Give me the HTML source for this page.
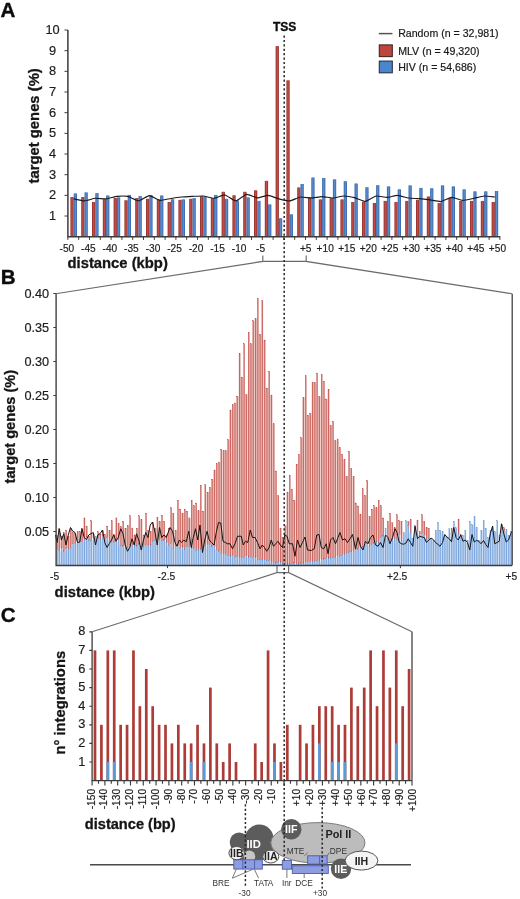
<!DOCTYPE html>
<html lang="en"><head><meta charset="utf-8"><title>Figure: MLV and HIV integration sites around TSS</title>
<style>html,body{margin:0;padding:0;background:#fff}body{width:520px;height:899px;overflow:hidden}svg{display:block;filter:blur(0.3px)}text{font-family:'Liberation Sans', Arial, Helvetica, sans-serif}</style>
</head><body>
<svg width="520" height="899" viewBox="0 0 520 899" role="img" aria-label="Distribution of MLV and HIV integration sites around transcription start sites">
<rect width="520" height="899" fill="#fff"/>
<g id="panelA">
<text x="0.4" y="16.7" font-size="20.6" font-weight="700" fill="#0c0c0c" stroke="#0c0c0c" stroke-width="0.35">A</text>
<g fill="#9e342f">
<rect x="70.4" y="197.01" width="3.3" height="39.69"/>
<rect x="81.2" y="197.01" width="3.3" height="39.69"/>
<rect x="92" y="201.97" width="3.3" height="34.73"/>
<rect x="102.8" y="199.29" width="3.3" height="37.41"/>
<rect x="113.6" y="198.05" width="3.3" height="38.65"/>
<rect x="124.4" y="200.32" width="3.3" height="36.38"/>
<rect x="135.2" y="198.05" width="3.3" height="38.65"/>
<rect x="146" y="198.87" width="3.3" height="37.83"/>
<rect x="156.8" y="199.49" width="3.3" height="37.21"/>
<rect x="167.6" y="201.97" width="3.3" height="34.73"/>
<rect x="178.4" y="199.91" width="3.3" height="36.79"/>
<rect x="189.2" y="198.87" width="3.3" height="37.83"/>
<rect x="200" y="196.39" width="3.3" height="40.31"/>
<rect x="210.8" y="198.25" width="3.3" height="38.45"/>
<rect x="221.6" y="191.85" width="3.3" height="44.85"/>
<rect x="232.4" y="195.36" width="3.3" height="41.34"/>
<rect x="243.2" y="191.85" width="3.3" height="44.85"/>
<rect x="254" y="190.4" width="3.3" height="46.3"/>
<rect x="264.8" y="180.89" width="3.3" height="55.81"/>
<rect x="275.6" y="46.12" width="3.3" height="190.58"/>
<rect x="286.4" y="80.43" width="3.3" height="156.27"/>
<rect x="297.2" y="187.51" width="3.3" height="49.19"/>
<rect x="308" y="197.43" width="3.3" height="39.27"/>
<rect x="318.8" y="199.49" width="3.3" height="37.21"/>
<rect x="329.6" y="198.25" width="3.3" height="38.45"/>
<rect x="340.4" y="199.49" width="3.3" height="37.21"/>
<rect x="351.2" y="201.97" width="3.3" height="34.73"/>
<rect x="362" y="201.56" width="3.3" height="35.14"/>
<rect x="372.8" y="203.01" width="3.3" height="33.69"/>
<rect x="383.6" y="200.94" width="3.3" height="35.76"/>
<rect x="394.4" y="201.97" width="3.3" height="34.73"/>
<rect x="405.2" y="200.94" width="3.3" height="35.76"/>
<rect x="416" y="199.91" width="3.3" height="36.79"/>
<rect x="426.8" y="196.6" width="3.3" height="40.1"/>
<rect x="437.6" y="203.01" width="3.3" height="33.69"/>
<rect x="448.4" y="198.05" width="3.3" height="38.65"/>
<rect x="459.2" y="200.94" width="3.3" height="35.76"/>
<rect x="470" y="200.94" width="3.3" height="35.76"/>
<rect x="480.8" y="200.94" width="3.3" height="35.76"/>
<rect x="491.6" y="201.97" width="3.3" height="34.73"/>
</g>
<g fill="#bf4d47">
<rect x="71.35" y="197.01" width="1.4" height="39.69"/>
<rect x="82.15" y="197.01" width="1.4" height="39.69"/>
<rect x="92.95" y="201.97" width="1.4" height="34.73"/>
<rect x="103.75" y="199.29" width="1.4" height="37.41"/>
<rect x="114.55" y="198.05" width="1.4" height="38.65"/>
<rect x="125.35" y="200.32" width="1.4" height="36.38"/>
<rect x="136.15" y="198.05" width="1.4" height="38.65"/>
<rect x="146.95" y="198.87" width="1.4" height="37.83"/>
<rect x="157.75" y="199.49" width="1.4" height="37.21"/>
<rect x="168.55" y="201.97" width="1.4" height="34.73"/>
<rect x="179.35" y="199.91" width="1.4" height="36.79"/>
<rect x="190.15" y="198.87" width="1.4" height="37.83"/>
<rect x="200.95" y="196.39" width="1.4" height="40.31"/>
<rect x="211.75" y="198.25" width="1.4" height="38.45"/>
<rect x="222.55" y="191.85" width="1.4" height="44.85"/>
<rect x="233.35" y="195.36" width="1.4" height="41.34"/>
<rect x="244.15" y="191.85" width="1.4" height="44.85"/>
<rect x="254.95" y="190.4" width="1.4" height="46.3"/>
<rect x="265.75" y="180.89" width="1.4" height="55.81"/>
<rect x="276.55" y="46.12" width="1.4" height="190.58"/>
<rect x="287.35" y="80.43" width="1.4" height="156.27"/>
<rect x="298.15" y="187.51" width="1.4" height="49.19"/>
<rect x="308.95" y="197.43" width="1.4" height="39.27"/>
<rect x="319.75" y="199.49" width="1.4" height="37.21"/>
<rect x="330.55" y="198.25" width="1.4" height="38.45"/>
<rect x="341.35" y="199.49" width="1.4" height="37.21"/>
<rect x="352.15" y="201.97" width="1.4" height="34.73"/>
<rect x="362.95" y="201.56" width="1.4" height="35.14"/>
<rect x="373.75" y="203.01" width="1.4" height="33.69"/>
<rect x="384.55" y="200.94" width="1.4" height="35.76"/>
<rect x="395.35" y="201.97" width="1.4" height="34.73"/>
<rect x="406.15" y="200.94" width="1.4" height="35.76"/>
<rect x="416.95" y="199.91" width="1.4" height="36.79"/>
<rect x="427.75" y="196.6" width="1.4" height="40.1"/>
<rect x="438.55" y="203.01" width="1.4" height="33.69"/>
<rect x="449.35" y="198.05" width="1.4" height="38.65"/>
<rect x="460.15" y="200.94" width="1.4" height="35.76"/>
<rect x="470.95" y="200.94" width="1.4" height="35.76"/>
<rect x="481.75" y="200.94" width="1.4" height="35.76"/>
<rect x="492.55" y="201.97" width="1.4" height="34.73"/>
</g>
<g fill="#3e6eb0">
<rect x="73.7" y="193.5" width="3.3" height="43.2"/>
<rect x="84.5" y="192.47" width="3.3" height="44.23"/>
<rect x="95.3" y="193.09" width="3.3" height="43.61"/>
<rect x="106.1" y="195.57" width="3.3" height="41.13"/>
<rect x="116.9" y="197.43" width="3.3" height="39.27"/>
<rect x="127.7" y="194.95" width="3.3" height="41.75"/>
<rect x="138.5" y="195.98" width="3.3" height="40.72"/>
<rect x="149.3" y="194.95" width="3.3" height="41.75"/>
<rect x="160.1" y="195.57" width="3.3" height="41.13"/>
<rect x="170.9" y="199.29" width="3.3" height="37.41"/>
<rect x="181.7" y="199.49" width="3.3" height="37.21"/>
<rect x="192.5" y="198.05" width="3.3" height="38.65"/>
<rect x="203.3" y="196.81" width="3.3" height="39.89"/>
<rect x="214.1" y="194.95" width="3.3" height="41.75"/>
<rect x="224.9" y="198.87" width="3.3" height="37.83"/>
<rect x="235.7" y="200.53" width="3.3" height="36.17"/>
<rect x="246.5" y="197.43" width="3.3" height="39.27"/>
<rect x="257.3" y="200.94" width="3.3" height="35.76"/>
<rect x="268.1" y="204.45" width="3.3" height="32.25"/>
<rect x="278.9" y="218.3" width="3.3" height="18.4"/>
<rect x="289.7" y="214.38" width="3.3" height="22.32"/>
<rect x="300.5" y="183.99" width="3.3" height="52.71"/>
<rect x="311.3" y="177.58" width="3.3" height="59.12"/>
<rect x="322.1" y="178" width="3.3" height="58.7"/>
<rect x="332.9" y="179.44" width="3.3" height="57.26"/>
<rect x="343.7" y="181.3" width="3.3" height="55.4"/>
<rect x="354.5" y="183.58" width="3.3" height="53.12"/>
<rect x="365.3" y="187.3" width="3.3" height="49.4"/>
<rect x="376.1" y="185.23" width="3.3" height="51.47"/>
<rect x="386.9" y="186.47" width="3.3" height="50.23"/>
<rect x="397.7" y="189.37" width="3.3" height="47.33"/>
<rect x="408.5" y="185.44" width="3.3" height="51.26"/>
<rect x="419.3" y="187.92" width="3.3" height="48.78"/>
<rect x="430.1" y="188.33" width="3.3" height="48.37"/>
<rect x="440.9" y="185.44" width="3.3" height="51.26"/>
<rect x="451.7" y="186.47" width="3.3" height="50.23"/>
<rect x="462.5" y="189.37" width="3.3" height="47.33"/>
<rect x="473.3" y="191.43" width="3.3" height="45.27"/>
<rect x="484.1" y="191.43" width="3.3" height="45.27"/>
<rect x="494.9" y="191.02" width="3.3" height="45.68"/>
</g>
<g fill="#588ccf">
<rect x="74.65" y="193.5" width="1.4" height="43.2"/>
<rect x="85.45" y="192.47" width="1.4" height="44.23"/>
<rect x="96.25" y="193.09" width="1.4" height="43.61"/>
<rect x="107.05" y="195.57" width="1.4" height="41.13"/>
<rect x="117.85" y="197.43" width="1.4" height="39.27"/>
<rect x="128.65" y="194.95" width="1.4" height="41.75"/>
<rect x="139.45" y="195.98" width="1.4" height="40.72"/>
<rect x="150.25" y="194.95" width="1.4" height="41.75"/>
<rect x="161.05" y="195.57" width="1.4" height="41.13"/>
<rect x="171.85" y="199.29" width="1.4" height="37.41"/>
<rect x="182.65" y="199.49" width="1.4" height="37.21"/>
<rect x="193.45" y="198.05" width="1.4" height="38.65"/>
<rect x="204.25" y="196.81" width="1.4" height="39.89"/>
<rect x="215.05" y="194.95" width="1.4" height="41.75"/>
<rect x="225.85" y="198.87" width="1.4" height="37.83"/>
<rect x="236.65" y="200.53" width="1.4" height="36.17"/>
<rect x="247.45" y="197.43" width="1.4" height="39.27"/>
<rect x="258.25" y="200.94" width="1.4" height="35.76"/>
<rect x="269.05" y="204.45" width="1.4" height="32.25"/>
<rect x="279.85" y="218.3" width="1.4" height="18.4"/>
<rect x="290.65" y="214.38" width="1.4" height="22.32"/>
<rect x="301.45" y="183.99" width="1.4" height="52.71"/>
<rect x="312.25" y="177.58" width="1.4" height="59.12"/>
<rect x="323.05" y="178" width="1.4" height="58.7"/>
<rect x="333.85" y="179.44" width="1.4" height="57.26"/>
<rect x="344.65" y="181.3" width="1.4" height="55.4"/>
<rect x="355.45" y="183.58" width="1.4" height="53.12"/>
<rect x="366.25" y="187.3" width="1.4" height="49.4"/>
<rect x="377.05" y="185.23" width="1.4" height="51.47"/>
<rect x="387.85" y="186.47" width="1.4" height="50.23"/>
<rect x="398.65" y="189.37" width="1.4" height="47.33"/>
<rect x="409.45" y="185.44" width="1.4" height="51.26"/>
<rect x="420.25" y="187.92" width="1.4" height="48.78"/>
<rect x="431.05" y="188.33" width="1.4" height="48.37"/>
<rect x="441.85" y="185.44" width="1.4" height="51.26"/>
<rect x="452.65" y="186.47" width="1.4" height="50.23"/>
<rect x="463.45" y="189.37" width="1.4" height="47.33"/>
<rect x="474.25" y="191.43" width="1.4" height="45.27"/>
<rect x="485.05" y="191.43" width="1.4" height="45.27"/>
<rect x="495.85" y="191.02" width="1.4" height="45.68"/>
</g>
<path d="M73.7,198.87C74.6,199.05 82.7,200.99 84.5,200.94C86.3,200.89 93.5,198.43 95.3,198.25C97.1,198.08 104.3,199.03 106.1,198.87C107.9,198.72 115.1,196.6 116.9,196.39C118.7,196.19 125.9,196.01 127.7,196.39C129.5,196.77 136.7,201.01 138.5,200.94C140.3,200.87 147.5,195.62 149.3,195.57C151.1,195.52 158.3,200.08 160.1,200.32C161.9,200.56 169.1,198.74 170.9,198.46C172.7,198.18 179.9,197.19 181.7,197.01C183.5,196.84 190.7,196.48 192.5,196.39C194.3,196.31 201.5,195.83 203.3,195.98C205.1,196.14 212.3,198.34 214.1,198.25C215.9,198.17 223.1,194.72 224.9,194.95C226.7,195.17 233.9,200.99 235.7,200.94C237.5,200.89 244.7,194.58 246.5,194.33C248.3,194.07 255.5,197.75 257.3,197.84C259.1,197.93 266.3,195.27 268.1,195.36C269.9,195.45 277.1,198.41 278.9,198.87C280.7,199.34 287.9,201.1 289.7,200.94C291.5,200.79 298.7,197.25 300.5,197.01C302.3,196.77 309.5,198.08 311.3,198.05C313.1,198.01 320.3,196.6 322.1,196.6C323.9,196.6 331.1,198.1 332.9,198.05C334.7,198 341.9,196.01 343.7,195.98C345.5,195.95 352.7,197.19 354.5,197.63C356.3,198.08 363.5,201.49 365.3,201.35C367.1,201.22 374.3,196.31 376.1,195.98C377.9,195.65 385.1,197.48 386.9,197.43C388.7,197.38 395.9,195.31 397.7,195.36C399.5,195.41 406.7,197.77 408.5,198.05C410.3,198.32 417.5,198.51 419.3,198.67C421.1,198.82 428.3,199.67 430.1,199.91C431.9,200.15 439.1,201.77 440.9,201.56C442.7,201.35 449.9,197.53 451.7,197.43C453.5,197.32 460.7,200.23 462.5,200.32C464.3,200.41 471.5,198.82 473.3,198.46C475.1,198.1 482.3,196.1 484.1,195.98C485.9,195.86 494,196.93 494.9,197.01" fill="none" stroke="#1c1c1c" stroke-width="1.15" stroke-linejoin="round"/>
<g stroke="#3c3c3c" stroke-width="1.5" fill="none">
<path d="M67.9,30 V236.7 H500.2"/>
<path d="M67.9,216.03 h-3.4M67.9,195.36 h-3.4M67.9,174.69 h-3.4M67.9,154.02 h-3.4M67.9,133.35 h-3.4M67.9,112.68 h-3.4M67.9,92.01 h-3.4M67.9,71.34 h-3.4M67.9,50.67 h-3.4M67.9,30 h-3.4M67.9,236.7 v3.2M78.7,236.7 v3.2M89.5,236.7 v3.2M100.3,236.7 v3.2M111.1,236.7 v3.2M121.9,236.7 v3.2M132.7,236.7 v3.2M143.5,236.7 v3.2M154.3,236.7 v3.2M165.1,236.7 v3.2M175.9,236.7 v3.2M186.7,236.7 v3.2M197.5,236.7 v3.2M208.3,236.7 v3.2M219.1,236.7 v3.2M229.9,236.7 v3.2M240.7,236.7 v3.2M251.5,236.7 v3.2M262.3,236.7 v3.2M273.1,236.7 v3.2M283.9,236.7 v3.2M294.7,236.7 v3.2M305.5,236.7 v3.2M316.3,236.7 v3.2M327.1,236.7 v3.2M337.9,236.7 v3.2M348.7,236.7 v3.2M359.5,236.7 v3.2M370.3,236.7 v3.2M381.1,236.7 v3.2M391.9,236.7 v3.2M402.7,236.7 v3.2M413.5,236.7 v3.2M424.3,236.7 v3.2M435.1,236.7 v3.2M445.9,236.7 v3.2M456.7,236.7 v3.2M467.5,236.7 v3.2M478.3,236.7 v3.2M489.1,236.7 v3.2M499.9,236.7 v3.2" stroke-width="1"/>
</g>
<g font-size="12.8" fill="#1c1c1c" stroke="#1c1c1c" stroke-width="0.18" text-anchor="middle">
<text x="52.6" y="220.03">1</text>
<text x="52.6" y="199.36">2</text>
<text x="52.6" y="178.69">3</text>
<text x="52.6" y="158.02">4</text>
<text x="52.6" y="137.35">5</text>
<text x="52.6" y="116.68">6</text>
<text x="52.6" y="96.01">7</text>
<text x="52.6" y="75.34">8</text>
<text x="52.6" y="54.67">9</text>
<text x="52.6" y="34">10</text>
</g>
<g font-size="10.15" fill="#1c1c1c" stroke="#1c1c1c" stroke-width="0.18" text-anchor="middle">
<text x="66.85" y="251.7">-50</text>
<text x="88.38" y="251.7">-45</text>
<text x="109.91" y="251.7">-40</text>
<text x="131.44" y="251.7">-35</text>
<text x="152.97" y="251.7">-30</text>
<text x="174.5" y="251.7">-25</text>
<text x="196.03" y="251.7">-20</text>
<text x="217.56" y="251.7">-15</text>
<text x="239.09" y="251.7">-10</text>
<text x="260.62" y="251.7">-5</text>
<text x="305.7" y="251.7">+5</text>
<text x="325.21" y="251.7">+10</text>
<text x="346.74" y="251.7">+15</text>
<text x="368.27" y="251.7">+20</text>
<text x="389.8" y="251.7">+25</text>
<text x="411.33" y="251.7">+30</text>
<text x="432.86" y="251.7">+35</text>
<text x="454.39" y="251.7">+40</text>
<text x="475.92" y="251.7">+45</text>
<text x="497.45" y="251.7">+50</text>
</g>
<text x="67.5" y="268.4" font-size="14.8" font-weight="700" fill="#151515" stroke="#151515" stroke-width="0.3">distance (kbp)</text>
<text transform="translate(38.6,183.4) rotate(-90)" font-size="14.8" font-weight="700" fill="#151515" stroke="#151515" stroke-width="0.3">target genes (%)</text>
<text x="284.6" y="30.8" font-size="12" font-weight="700" fill="#0c0c0c" stroke="#0c0c0c" stroke-width="0.35" text-anchor="middle">TSS</text>
<path d="M378.8,33.6 H392.4" stroke="#555" stroke-width="1.5"/>
<rect x="379.3" y="44.9" width="13" height="11.7" fill="#c0453e" stroke="#3a2a2a" stroke-width="1.1"/>
<rect x="379.3" y="61.1" width="13" height="11.7" fill="#4a86cf" stroke="#2a3240" stroke-width="1.1"/>
<g font-size="10.6" fill="#1a1a1a" stroke="#1a1a1a" stroke-width="0.2">
<text x="398.2" y="37.4">Random (n = 32,981)</text>
<text x="398.2" y="54.9">MLV (n = 49,320)</text>
<text x="398.2" y="71">HIV (n = 54,686)</text>
</g>
</g>
<g id="panelB">
<text x="0.8" y="283.7" font-size="20.6" font-weight="700" fill="#0c0c0c" stroke="#0c0c0c" stroke-width="0.35">B</text>
<path d="M57.64,549.8V535.58H58.82V549.8ZM59.92,547.88V536.26H61.1V547.88ZM62.2,547.88V536.26H63.38V547.88ZM64.48,548.37V532.86H65.66V548.37ZM66.76,548.37V536.26H67.95V548.37ZM69.05,548.41V536.26H70.23V548.41ZM71.33,543.47V532.86H72.51V543.47ZM73.61,543.47V533.54H74.79V543.47ZM75.89,540.87V533.54H77.07V540.87ZM78.17,540.87V531.5H79.35V540.87ZM80.45,541.72V531.5H81.63V541.72ZM82.73,539.39V528.44H83.91V539.39ZM85.01,537.12V526.06H86.19V537.12ZM87.29,537.12V536.26H88.47V537.12ZM89.57,540.23V536.26H90.76V540.23ZM91.86,537.95V534.22H93.04V537.95ZM98.7,538.05V534.22H99.88V538.05ZM100.98,535.71V534.22H102.16V535.71ZM103.26,535.71V534.22H104.44V535.71ZM105.54,537.13V534.22H106.72V537.13ZM107.82,537.13V530.14H109V537.13ZM110.1,540.61V530.14H111.28V540.61ZM112.38,541.79V534.22H113.57V541.79ZM114.67,541.67V534.22H115.85V541.67ZM116.95,539.3V523.34H118.13V539.3ZM119.23,539.3V526.74H120.41V539.3ZM121.51,545.48V526.74H122.69V545.48ZM123.79,546.02V528.1H124.97V546.02ZM126.07,547.83V528.1H127.25V547.83ZM128.35,544.84V525.38H129.53V544.84ZM130.63,544.84V528.1H131.81V544.84ZM132.91,545.44V534.9H134.09V545.44ZM135.19,546.02V534.9H136.38V546.02ZM137.48,544.12V528.1H138.66V544.12ZM139.76,544.12V519.26H140.94V544.12ZM142.04,546.17V534.9H143.22V546.17ZM144.32,544.86V534.9H145.5V544.86ZM146.6,544.86V530.14H147.78V544.86ZM148.88,545.1V531.5H150.06V545.1ZM151.16,541.32V531.5H152.34V541.32ZM153.44,540.75V528.1H154.62V540.75ZM155.72,540.75V528.1H156.9V540.75ZM158,539.26V521.3H159.19V539.26ZM160.29,539.26V521.3H161.47V539.26ZM162.57,540.07V521.3H163.75V540.07ZM164.85,540.07V534.9H166.03V540.07ZM167.13,542.08V534.9H168.31V542.08ZM169.41,543.17V528.1H170.59V543.17ZM171.69,543.17V513.14H172.87V543.17ZM173.97,546.74V530.14H175.15V546.74ZM176.25,545.15V530.14H177.43V545.15ZM178.53,545.15V509.06H179.71V545.15ZM180.81,547.12V513.14H182V547.12ZM183.1,547.12V513.14H184.28V547.12ZM185.38,546.65V511.1H186.56V546.65ZM187.66,546.38V517.9H188.84V546.38ZM189.94,546.38V517.9H191.12V546.38ZM192.22,548.1V505.66H193.4V548.1ZM194.5,548.41V505.66H195.68V548.41ZM196.78,550.14V510.42H197.96V550.14ZM199.06,548.99V510.42H200.24V548.99ZM201.34,547.66V511.1H202.52V547.66ZM203.62,546.55V511.1H204.81V546.55ZM205.91,544.41V492.06H207.09V544.41ZM208.19,544.41V492.06H209.37V544.41ZM210.47,544.65V487.3H211.65V544.65ZM212.75,546.06V479.14H213.93V546.06ZM215.03,546.13V469.96H216.21V546.13ZM217.31,549.85V463.5H218.49V549.85ZM219.59,551.04V462.14H220.77V551.04ZM221.87,553.39V450.58H223.05V553.39ZM224.15,553.39V450.58H225.33V553.39ZM226.43,554.19V450.58H227.62V554.19ZM228.72,555.74V439.7H229.9V555.74ZM231,555.86V409.98H232.18V555.86ZM233.28,555.86V404.48H234.46V555.86ZM235.56,556.69V402.98H236.74V556.69ZM237.84,556.69V396.18H239.02V556.69ZM240.12,557.24V377.14H241.3V557.24ZM242.4,557.3V377.14H243.58V557.3ZM244.68,555.87V394.48H245.86V555.87ZM246.96,555.87V394.48H248.14V555.87ZM249.24,556.83V343.82H250.43V556.83ZM251.53,556.83V343.82H252.71V556.83ZM253.81,557.06V320.7H254.99V557.06ZM256.09,557.06V318.66H257.27V557.06ZM258.37,559.42V334.3H259.55V559.42ZM260.65,559.42V334.3H261.83V559.42ZM262.93,559.73V340.01H264.11V559.73ZM265.21,559.73V388.02H266.39V559.73ZM267.49,560.32V388.02H268.67V560.32ZM269.77,560.68V395.02H270.95V560.68ZM272.05,562.33V423.72H273.24V562.33ZM274.34,562.5V470.98H275.52V562.5ZM276.62,562.13V495.46H277.8V562.13ZM278.9,562.12V528.1H280.08V562.12ZM281.18,562.12V537.62H282.36V562.12ZM283.46,563.9V537.62H284.64V563.9ZM285.74,563.98V525.38H286.92V563.98ZM288.02,563.91V492.06H289.2V563.91ZM290.3,563.3V489.34H291.48V563.3ZM292.58,562.99V500.22H293.76V562.99ZM294.86,562.99V500.22H296.05V562.99ZM297.15,563.56V464.18H298.33V563.56ZM299.43,563.04V454.32H300.61V563.04ZM301.71,563.04V437.66H302.89V563.04ZM303.99,562.37V397.54H305.17V562.37ZM306.27,561.31V415.22H307.45V561.31ZM308.55,561.31V415.22H309.73V561.31ZM310.83,561.58V413.18H312.01V561.58ZM313.11,561.18V382.58H314.29V561.18ZM315.39,560.61V382.58H316.57V560.61ZM317.67,560.61V396.18H318.86V560.61ZM319.96,559.24V396.18H321.14V559.24ZM322.24,559.04V381.22H323.42V559.04ZM324.52,558.39V398.9H325.7V558.39ZM326.8,558.09V398.9H327.98V558.09ZM329.08,558.09V425.42H330.26V558.09ZM331.36,557.55V425.42H332.54V557.55ZM333.64,557.47V440.38H334.82V557.47ZM335.92,555.71V440.38H337.1V555.71ZM338.2,555.71V447.52H339.38V555.71ZM340.48,555.32V454.25H341.67V555.32ZM342.77,554.17V459.42H343.95V554.17ZM345.05,553.4V476.42H346.23V553.4ZM347.33,552.18V476.42H348.51V552.18ZM349.61,551.91V468.26H350.79V551.91ZM351.89,551.15V476.42H353.07V551.15ZM354.17,549.84V502.94H355.35V549.84ZM356.45,548.93V505.93H357.63V548.93ZM358.73,547.39V514.16H359.91V547.39ZM361.01,547.07V514.16H362.19V547.07ZM363.29,542.55V495.46H364.48V542.55ZM365.58,542.55V495.46H366.76V542.55ZM367.86,543.53V516.54H369.04V543.53ZM370.14,544.4V516.54H371.32V544.4ZM372.42,542.96V509.06H373.6V542.96ZM374.7,542.06V507.7H375.88V542.06ZM376.98,542.06V507.7H378.16V542.06ZM379.26,537.42V505.66H380.44V537.42ZM381.54,535.9V517.9H382.72V535.9ZM388.39,538.27V521.3H389.57V538.27ZM390.67,540.33V522.66H391.85V540.33ZM392.95,538.69V527.76H394.13V538.69ZM395.23,538.69V527.76H396.41V538.69ZM397.51,534.49V520.62H398.69V534.49ZM399.79,534.49V521.3H400.97V534.49ZM408.91,525.38V521.3H410.1V525.38ZM420.32,533.61V531.5H421.5V533.61ZM422.6,533.61V521.3H423.78V533.61ZM424.88,535.14V527.42H426.06V535.14ZM427.16,538.17V528.1H428.34V538.17Z" fill="#fadcd7"/>
<path d="M57.64,565.5V550.67H58.82V565.5ZM59.92,565.5V550.67H61.1V565.5ZM62.2,565.5V550.96H63.38V565.5ZM64.48,565.5V550.96H65.66V565.5ZM66.76,565.5V549.23H67.95V565.5ZM69.05,565.5V549.23H70.23V565.5ZM71.33,565.5V548.41H72.51V565.5ZM73.61,565.5V543.54H74.79V565.5ZM75.89,565.5V543.54H77.07V565.5ZM78.17,565.5V542.34H79.35V565.5ZM80.45,565.5V542.34H81.63V565.5ZM82.73,565.5V541.72H83.91V565.5ZM85.01,565.5V539.39H86.19V565.5ZM87.29,565.5V540.86H88.47V565.5ZM89.57,565.5V540.86H90.76V565.5ZM91.86,565.5V540.23H93.04V565.5ZM94.14,565.5V537.95H95.32V565.5ZM96.42,565.5V538.05H97.6V565.5ZM98.7,565.5V538.95H99.88V565.5ZM100.98,565.5V538.95H102.16V565.5ZM103.26,565.5V541.16H104.44V565.5ZM105.54,565.5V541.16H106.72V565.5ZM107.82,565.5V540.61H109V565.5ZM110.1,565.5V541.79H111.28V565.5ZM112.38,565.5V542.32H113.57V565.5ZM114.67,565.5V542.32H115.85V565.5ZM116.95,565.5V541.67H118.13V565.5ZM119.23,565.5V545.48H120.41V565.5ZM121.51,565.5V546.02H122.69V565.5ZM123.79,565.5V548.42H124.97V565.5ZM126.07,565.5V548.42H127.25V565.5ZM128.35,565.5V547.83H129.53V565.5ZM130.63,565.5V545.44H131.81V565.5ZM132.91,565.5V546.14H134.09V565.5ZM135.19,565.5V546.14H136.38V565.5ZM137.48,565.5V546.02H138.66V565.5ZM139.76,565.5V546.17H140.94V565.5ZM142.04,565.5V546.56H143.22V565.5ZM144.32,565.5V546.56H145.5V565.5ZM146.6,565.5V545.35H147.78V565.5ZM148.88,565.5V545.35H150.06V565.5ZM151.16,565.5V545.1H152.34V565.5ZM153.44,565.5V541.32H154.62V565.5ZM155.72,565.5V542.14H156.9V565.5ZM158,565.5V542.14H159.19V565.5ZM160.29,565.5V540.75H161.47V565.5ZM162.57,565.5V540.75H163.75V565.5ZM164.85,565.5V542.08H166.03V565.5ZM167.13,565.5V545.71H168.31V565.5ZM169.41,565.5V545.71H170.59V565.5ZM171.69,565.5V548.11H172.87V565.5ZM173.97,565.5V548.11H175.15V565.5ZM176.25,565.5V546.74H177.43V565.5ZM178.53,565.5V548.69H179.71V565.5ZM180.81,565.5V548.69H182V565.5ZM183.1,565.5V549.82H184.28V565.5ZM185.38,565.5V549.82H186.56V565.5ZM187.66,565.5V546.65H188.84V565.5ZM189.94,565.5V548.1H191.12V565.5ZM192.22,565.5V548.41H193.4V565.5ZM194.5,565.5V550.24H195.68V565.5ZM196.78,565.5V550.24H197.96V565.5ZM199.06,565.5V550.14H200.24V565.5ZM201.34,565.5V548.99H202.52V565.5ZM203.62,565.5V547.66H204.81V565.5ZM205.91,565.5V546.55H207.09V565.5ZM208.19,565.5V544.65H209.37V565.5ZM210.47,565.5V546.06H211.65V565.5ZM212.75,565.5V546.13H213.93V565.5ZM215.03,565.5V549.85H216.21V565.5ZM217.31,565.5V551.04H218.49V565.5ZM219.59,565.5V553.64H220.77V565.5ZM221.87,565.5V553.64H223.05V565.5ZM224.15,565.5V554.19H225.33V565.5ZM226.43,565.5V555.74H227.62V565.5ZM228.72,565.5V555.99H229.9V565.5ZM231,565.5V555.99H232.18V565.5ZM233.28,565.5V557.63H234.46V565.5ZM235.56,565.5V557.63H236.74V565.5ZM237.84,565.5V557.24H239.02V565.5ZM240.12,565.5V557.3H241.3V565.5ZM242.4,565.5V557.37H243.58V565.5ZM244.68,565.5V557.37H245.86V565.5ZM246.96,565.5V557.12H248.14V565.5ZM249.24,565.5V557.12H250.43V565.5ZM251.53,565.5V557.29H252.71V565.5ZM253.81,565.5V557.29H254.99V565.5ZM256.09,565.5V559.42H257.27V565.5ZM258.37,565.5V559.42H259.55V565.5ZM260.65,565.5V559.96H261.83V565.5ZM262.93,565.5V559.96H264.11V565.5ZM265.21,565.5V560.32H266.39V565.5ZM267.49,565.5V560.68H268.67V565.5ZM269.77,565.5V562.33H270.95V565.5ZM272.05,565.5V562.5H273.24V565.5ZM274.34,565.5V563.07H275.52V565.5ZM276.62,565.5V563.07H277.8V565.5ZM278.9,565.5V562.13H280.08V565.5ZM281.18,565.5V563.9H282.36V565.5ZM283.46,565.5V563.98H284.64V565.5ZM285.74,565.5V564.01H286.92V565.5ZM288.02,565.5V564.01H289.2V565.5ZM290.3,565.5V563.91H291.48V565.5ZM292.58,565.5V563.3H293.76V565.5ZM294.86,565.5V563.56H296.05V565.5ZM297.15,565.5V563.99H298.33V565.5ZM299.43,565.5V563.99H300.61V565.5ZM301.71,565.5V563.05H302.89V565.5ZM303.99,565.5V563.05H305.17V565.5ZM306.27,565.5V562.37H307.45V565.5ZM308.55,565.5V561.58H309.73V565.5ZM310.83,565.5V561.66H312.01V565.5ZM313.11,565.5V561.66H314.29V565.5ZM315.39,565.5V561.18H316.57V565.5ZM317.67,565.5V561.42H318.86V565.5ZM319.96,565.5V561.42H321.14V565.5ZM322.24,565.5V559.24H323.42V565.5ZM324.52,565.5V559.04H325.7V565.5ZM326.8,565.5V558.39H327.98V565.5ZM329.08,565.5V558.24H330.26V565.5ZM331.36,565.5V558.24H332.54V565.5ZM333.64,565.5V557.55H334.82V565.5ZM335.92,565.5V557.47H337.1V565.5ZM338.2,565.5V556.19H339.38V565.5ZM340.48,565.5V556.19H341.67V565.5ZM342.77,565.5V555.32H343.95V565.5ZM345.05,565.5V554.17H346.23V565.5ZM347.33,565.5V553.4H348.51V565.5ZM349.61,565.5V552.18H350.79V565.5ZM351.89,565.5V551.91H353.07V565.5ZM354.17,565.5V551.15H355.35V565.5ZM356.45,565.5V549.84H357.63V565.5ZM358.73,565.5V548.93H359.91V565.5ZM361.01,565.5V547.39H362.19V565.5ZM363.29,565.5V547.07H364.48V565.5ZM365.58,565.5V543.53H366.76V565.5ZM367.86,565.5V545.9H369.04V565.5ZM370.14,565.5V545.9H371.32V565.5ZM372.42,565.5V544.4H373.6V565.5ZM374.7,565.5V542.96H375.88V565.5ZM376.98,565.5V542.9H378.16V565.5ZM379.26,565.5V542.9H380.44V565.5ZM381.54,565.5V537.42H382.72V565.5ZM383.82,565.5V535.9H385V565.5ZM386.1,565.5V538.27H387.29V565.5ZM388.39,565.5V540.44H389.57V565.5ZM390.67,565.5V540.44H391.85V565.5ZM392.95,565.5V540.33H394.13V565.5ZM395.23,565.5V539.22H396.41V565.5ZM397.51,565.5V539.22H398.69V565.5ZM399.79,565.5V540.79H400.97V565.5ZM402.07,565.5V540.79H403.25V565.5ZM404.35,565.5V532.86H405.53V565.5ZM406.63,565.5V525.38H407.81V565.5ZM408.91,565.5V532.86H410.1V565.5ZM411.2,565.5V538.3H412.38V565.5ZM413.48,565.5V538.3H414.66V565.5ZM415.76,565.5V530.14H416.94V565.5ZM418.04,565.5V535.58H419.22V565.5ZM420.32,565.5V535.58H421.5V565.5ZM422.6,565.5V535.14H423.78V565.5ZM424.88,565.5V539.23H426.06V565.5ZM427.16,565.5V539.23H428.34V565.5ZM429.44,565.5V538.98H430.62V565.5ZM431.72,565.5V540.34H432.91V565.5ZM434.01,565.5V540.34H435.19V565.5ZM436.29,565.5V530.14H437.47V565.5ZM438.57,565.5V530.14H439.75V565.5ZM440.85,565.5V531.5H442.03V565.5ZM443.13,565.5V535.24H444.31V565.5ZM445.41,565.5V537.62H446.59V565.5ZM447.69,565.5V537.62H448.87V565.5ZM449.97,565.5V532.86H451.15V565.5ZM452.25,565.5V532.86H453.43V565.5ZM454.53,565.5V527.76H455.72V565.5ZM456.82,565.5V534.22H458V565.5ZM459.1,565.5V535.58H460.28V565.5ZM461.38,565.5V535.58H462.56V565.5ZM463.66,565.5V535.24H464.84V565.5ZM465.94,565.5V540.34H467.12V565.5ZM468.22,565.5V540.34H469.4V565.5ZM470.5,565.5V524.7H471.68V565.5ZM472.78,565.5V524.7H473.96V565.5ZM475.06,565.5V527.42H476.24V565.5ZM477.34,565.5V540.34H478.53V565.5ZM479.63,565.5V540.34H480.81V565.5ZM481.91,565.5V530.14H483.09V565.5ZM484.19,565.5V528.1H485.37V565.5ZM486.47,565.5V537.62H487.65V565.5ZM488.75,565.5V537.62H489.93V565.5ZM491.03,565.5V530.14H492.21V565.5ZM493.31,565.5V531.5H494.49V565.5ZM495.59,565.5V531.5H496.77V565.5ZM497.87,565.5V535.24H499.05V565.5ZM500.15,565.5V535.24H501.34V565.5ZM502.44,565.5V531.5H503.62V565.5ZM504.72,565.5V531.5H505.9V565.5ZM507,565.5V535.24H508.18V565.5ZM509.28,565.5V535.24H510.46V565.5Z" fill="#d6e5f8"/>
<g fill="#d26d66" stroke="#b24a45" stroke-width="0.25">
<rect x="56.54" y="535.58" width="1.1" height="14.22"/>
<rect x="58.82" y="528.78" width="1.1" height="21.89"/>
<rect x="61.1" y="536.26" width="1.1" height="11.62"/>
<rect x="63.38" y="532.86" width="1.1" height="18.1"/>
<rect x="65.66" y="530.14" width="1.1" height="18.23"/>
<rect x="67.95" y="536.26" width="1.1" height="12.97"/>
<rect x="70.23" y="528.1" width="1.1" height="20.31"/>
<rect x="72.51" y="532.86" width="1.1" height="10.61"/>
<rect x="74.79" y="533.54" width="1.1" height="10"/>
<rect x="77.07" y="531.5" width="1.1" height="9.37"/>
<rect x="79.35" y="531.5" width="1.1" height="10.84"/>
<rect x="81.63" y="528.44" width="1.1" height="13.28"/>
<rect x="83.91" y="517.9" width="1.1" height="21.49"/>
<rect x="86.19" y="526.06" width="1.1" height="11.06"/>
<rect x="88.47" y="536.26" width="1.1" height="4.6"/>
<rect x="90.76" y="520.62" width="1.1" height="19.61"/>
<rect x="93.04" y="534.22" width="1.1" height="3.73"/>
<rect x="97.6" y="531.5" width="1.1" height="6.55"/>
<rect x="99.88" y="534.22" width="1.1" height="4.73"/>
<rect x="102.16" y="530.82" width="1.1" height="4.89"/>
<rect x="104.44" y="534.22" width="1.1" height="6.94"/>
<rect x="106.72" y="526.06" width="1.1" height="11.07"/>
<rect x="109" y="530.14" width="1.1" height="10.47"/>
<rect x="111.28" y="520.62" width="1.1" height="21.17"/>
<rect x="113.57" y="534.22" width="1.1" height="8.1"/>
<rect x="115.85" y="517.9" width="1.1" height="23.77"/>
<rect x="118.13" y="523.34" width="1.1" height="15.96"/>
<rect x="120.41" y="526.74" width="1.1" height="18.74"/>
<rect x="122.69" y="521.3" width="1.1" height="24.72"/>
<rect x="124.97" y="528.1" width="1.1" height="20.32"/>
<rect x="127.25" y="525.38" width="1.1" height="22.45"/>
<rect x="129.53" y="515.86" width="1.1" height="28.98"/>
<rect x="131.81" y="528.1" width="1.1" height="17.34"/>
<rect x="134.09" y="534.9" width="1.1" height="11.24"/>
<rect x="136.38" y="528.1" width="1.1" height="17.92"/>
<rect x="138.66" y="515.86" width="1.1" height="28.26"/>
<rect x="140.94" y="519.26" width="1.1" height="26.91"/>
<rect x="143.22" y="534.9" width="1.1" height="11.66"/>
<rect x="145.5" y="513.14" width="1.1" height="31.72"/>
<rect x="147.78" y="530.14" width="1.1" height="15.21"/>
<rect x="150.06" y="531.5" width="1.1" height="13.6"/>
<rect x="152.34" y="522.66" width="1.1" height="18.66"/>
<rect x="154.62" y="528.1" width="1.1" height="12.65"/>
<rect x="156.9" y="517.22" width="1.1" height="24.92"/>
<rect x="159.19" y="521.3" width="1.1" height="17.96"/>
<rect x="161.47" y="515.18" width="1.1" height="25.57"/>
<rect x="163.75" y="521.3" width="1.1" height="18.77"/>
<rect x="166.03" y="534.9" width="1.1" height="7.18"/>
<rect x="168.31" y="528.1" width="1.1" height="17.61"/>
<rect x="170.59" y="507.7" width="1.1" height="35.47"/>
<rect x="172.87" y="513.14" width="1.1" height="34.97"/>
<rect x="175.15" y="530.14" width="1.1" height="16.6"/>
<rect x="177.43" y="500.22" width="1.1" height="44.93"/>
<rect x="179.71" y="509.06" width="1.1" height="39.63"/>
<rect x="182" y="513.14" width="1.1" height="33.98"/>
<rect x="184.28" y="509.06" width="1.1" height="40.76"/>
<rect x="186.56" y="511.1" width="1.1" height="35.55"/>
<rect x="188.84" y="517.9" width="1.1" height="28.48"/>
<rect x="191.12" y="500.22" width="1.1" height="47.88"/>
<rect x="193.4" y="505.66" width="1.1" height="42.75"/>
<rect x="195.68" y="502.94" width="1.1" height="47.3"/>
<rect x="197.96" y="510.42" width="1.1" height="39.72"/>
<rect x="200.24" y="485.26" width="1.1" height="63.73"/>
<rect x="202.52" y="511.1" width="1.1" height="36.56"/>
<rect x="204.81" y="484.58" width="1.1" height="61.97"/>
<rect x="207.09" y="492.06" width="1.1" height="52.35"/>
<rect x="209.37" y="487.3" width="1.1" height="57.35"/>
<rect x="211.65" y="479.14" width="1.1" height="66.92"/>
<rect x="213.93" y="469.96" width="1.1" height="76.17"/>
<rect x="216.21" y="463.5" width="1.1" height="86.35"/>
<rect x="218.49" y="462.14" width="1.1" height="88.9"/>
<rect x="220.77" y="449.22" width="1.1" height="104.42"/>
<rect x="223.05" y="450.58" width="1.1" height="102.81"/>
<rect x="225.33" y="450.58" width="1.1" height="103.61"/>
<rect x="227.62" y="439.7" width="1.1" height="116.04"/>
<rect x="229.9" y="409.98" width="1.1" height="146"/>
<rect x="232.18" y="404.48" width="1.1" height="151.39"/>
<rect x="234.46" y="402.98" width="1.1" height="154.65"/>
<rect x="236.74" y="396.18" width="1.1" height="160.51"/>
<rect x="239.02" y="353.34" width="1.1" height="203.9"/>
<rect x="241.3" y="377.14" width="1.1" height="180.16"/>
<rect x="243.58" y="343.82" width="1.1" height="213.55"/>
<rect x="245.86" y="394.48" width="1.1" height="161.39"/>
<rect x="248.14" y="332.53" width="1.1" height="224.59"/>
<rect x="250.43" y="343.82" width="1.1" height="213.01"/>
<rect x="252.71" y="320.7" width="1.1" height="236.59"/>
<rect x="254.99" y="318.66" width="1.1" height="238.4"/>
<rect x="257.27" y="298.26" width="1.1" height="261.16"/>
<rect x="259.55" y="334.3" width="1.1" height="225.12"/>
<rect x="261.83" y="300.3" width="1.1" height="259.66"/>
<rect x="264.11" y="340.01" width="1.1" height="219.72"/>
<rect x="266.39" y="388.02" width="1.1" height="172.3"/>
<rect x="268.67" y="371.22" width="1.1" height="189.45"/>
<rect x="270.95" y="395.02" width="1.1" height="167.3"/>
<rect x="273.24" y="423.72" width="1.1" height="138.78"/>
<rect x="275.52" y="470.98" width="1.1" height="92.09"/>
<rect x="277.8" y="495.46" width="1.1" height="66.67"/>
<rect x="280.08" y="528.1" width="1.1" height="34.02"/>
<rect x="282.36" y="537.62" width="1.1" height="26.28"/>
<rect x="284.64" y="525.38" width="1.1" height="38.6"/>
<rect x="286.92" y="492.06" width="1.1" height="71.95"/>
<rect x="289.2" y="475.06" width="1.1" height="88.85"/>
<rect x="291.48" y="489.34" width="1.1" height="73.96"/>
<rect x="293.76" y="500.22" width="1.1" height="62.77"/>
<rect x="296.05" y="464.18" width="1.1" height="99.38"/>
<rect x="298.33" y="454.32" width="1.1" height="109.67"/>
<rect x="300.61" y="437.66" width="1.1" height="125.38"/>
<rect x="302.89" y="397.54" width="1.1" height="165.51"/>
<rect x="305.17" y="375.78" width="1.1" height="186.59"/>
<rect x="307.45" y="415.22" width="1.1" height="146.09"/>
<rect x="309.73" y="413.18" width="1.1" height="148.4"/>
<rect x="312.01" y="382.58" width="1.1" height="179.08"/>
<rect x="314.29" y="382.58" width="1.1" height="178.6"/>
<rect x="316.57" y="373.06" width="1.1" height="187.55"/>
<rect x="318.86" y="396.18" width="1.1" height="165.24"/>
<rect x="321.14" y="374.42" width="1.1" height="184.82"/>
<rect x="323.42" y="381.22" width="1.1" height="177.82"/>
<rect x="325.7" y="398.9" width="1.1" height="159.49"/>
<rect x="327.98" y="389.38" width="1.1" height="168.71"/>
<rect x="330.26" y="425.42" width="1.1" height="132.82"/>
<rect x="332.54" y="421.34" width="1.1" height="136.21"/>
<rect x="334.82" y="440.38" width="1.1" height="117.09"/>
<rect x="337.1" y="439.02" width="1.1" height="116.69"/>
<rect x="339.38" y="447.52" width="1.1" height="108.67"/>
<rect x="341.67" y="454.25" width="1.1" height="101.07"/>
<rect x="343.95" y="459.42" width="1.1" height="94.75"/>
<rect x="346.23" y="476.42" width="1.1" height="76.98"/>
<rect x="348.51" y="451.26" width="1.1" height="100.92"/>
<rect x="350.79" y="468.26" width="1.1" height="83.65"/>
<rect x="353.07" y="476.42" width="1.1" height="74.73"/>
<rect x="355.35" y="502.94" width="1.1" height="46.9"/>
<rect x="357.63" y="505.93" width="1.1" height="43"/>
<rect x="359.91" y="514.16" width="1.1" height="33.23"/>
<rect x="362.19" y="488.66" width="1.1" height="58.41"/>
<rect x="364.48" y="495.46" width="1.1" height="47.09"/>
<rect x="366.76" y="480.5" width="1.1" height="63.03"/>
<rect x="369.04" y="516.54" width="1.1" height="29.36"/>
<rect x="371.32" y="509.06" width="1.1" height="35.34"/>
<rect x="373.6" y="505.66" width="1.1" height="37.3"/>
<rect x="375.88" y="507.7" width="1.1" height="34.36"/>
<rect x="378.16" y="500.22" width="1.1" height="42.68"/>
<rect x="380.44" y="505.66" width="1.1" height="31.76"/>
<rect x="382.72" y="517.9" width="1.1" height="18"/>
<rect x="387.29" y="521.3" width="1.1" height="16.97"/>
<rect x="389.57" y="513.14" width="1.1" height="27.3"/>
<rect x="391.85" y="522.66" width="1.1" height="17.67"/>
<rect x="394.13" y="527.76" width="1.1" height="10.93"/>
<rect x="396.41" y="514.84" width="1.1" height="24.38"/>
<rect x="398.69" y="520.62" width="1.1" height="13.87"/>
<rect x="400.97" y="521.3" width="1.1" height="19.49"/>
<rect x="407.81" y="521.3" width="1.1" height="4.08"/>
<rect x="410.1" y="519.26" width="1.1" height="13.6"/>
<rect x="416.94" y="520.62" width="1.1" height="9.52"/>
<rect x="419.22" y="531.5" width="1.1" height="4.08"/>
<rect x="421.5" y="514.84" width="1.1" height="18.77"/>
<rect x="423.78" y="521.3" width="1.1" height="13.84"/>
<rect x="426.06" y="527.42" width="1.1" height="11.81"/>
<rect x="428.34" y="528.1" width="1.1" height="10.07"/>
<rect x="451.15" y="528.44" width="1.1" height="4.42"/>
<rect x="458" y="519.26" width="1.1" height="14.96"/>
<rect x="460.28" y="534.22" width="1.1" height="1.36"/>
<rect x="501.34" y="524.7" width="1.1" height="1.36"/>
<rect x="503.62" y="527.76" width="1.1" height="3.74"/>
</g>
<g fill="#82abe0" stroke="#6592d0" stroke-width="0.25">
<rect x="56.54" y="549.8" width="1.1" height="15.7"/>
<rect x="58.82" y="550.67" width="1.1" height="14.83"/>
<rect x="61.1" y="547.88" width="1.1" height="17.62"/>
<rect x="63.38" y="550.96" width="1.1" height="14.54"/>
<rect x="65.66" y="548.37" width="1.1" height="17.13"/>
<rect x="67.95" y="549.23" width="1.1" height="16.27"/>
<rect x="70.23" y="548.41" width="1.1" height="17.09"/>
<rect x="72.51" y="543.47" width="1.1" height="22.03"/>
<rect x="74.79" y="543.54" width="1.1" height="21.96"/>
<rect x="77.07" y="540.87" width="1.1" height="24.63"/>
<rect x="79.35" y="542.34" width="1.1" height="23.16"/>
<rect x="81.63" y="541.72" width="1.1" height="23.78"/>
<rect x="83.91" y="539.39" width="1.1" height="26.11"/>
<rect x="86.19" y="537.12" width="1.1" height="28.38"/>
<rect x="88.47" y="540.86" width="1.1" height="24.64"/>
<rect x="90.76" y="540.23" width="1.1" height="25.27"/>
<rect x="93.04" y="537.95" width="1.1" height="27.55"/>
<rect x="95.32" y="536.12" width="1.1" height="29.38"/>
<rect x="97.6" y="538.05" width="1.1" height="27.45"/>
<rect x="99.88" y="538.95" width="1.1" height="26.55"/>
<rect x="102.16" y="535.71" width="1.1" height="29.79"/>
<rect x="104.44" y="541.16" width="1.1" height="24.34"/>
<rect x="106.72" y="537.13" width="1.1" height="28.37"/>
<rect x="109" y="540.61" width="1.1" height="24.89"/>
<rect x="111.28" y="541.79" width="1.1" height="23.71"/>
<rect x="113.57" y="542.32" width="1.1" height="23.18"/>
<rect x="115.85" y="541.67" width="1.1" height="23.83"/>
<rect x="118.13" y="539.3" width="1.1" height="26.2"/>
<rect x="120.41" y="545.48" width="1.1" height="20.02"/>
<rect x="122.69" y="546.02" width="1.1" height="19.48"/>
<rect x="124.97" y="548.42" width="1.1" height="17.08"/>
<rect x="127.25" y="547.83" width="1.1" height="17.67"/>
<rect x="129.53" y="544.84" width="1.1" height="20.66"/>
<rect x="131.81" y="545.44" width="1.1" height="20.06"/>
<rect x="134.09" y="546.14" width="1.1" height="19.36"/>
<rect x="136.38" y="546.02" width="1.1" height="19.48"/>
<rect x="138.66" y="544.12" width="1.1" height="21.38"/>
<rect x="140.94" y="546.17" width="1.1" height="19.33"/>
<rect x="143.22" y="546.56" width="1.1" height="18.94"/>
<rect x="145.5" y="544.86" width="1.1" height="20.64"/>
<rect x="147.78" y="545.35" width="1.1" height="20.15"/>
<rect x="150.06" y="545.1" width="1.1" height="20.4"/>
<rect x="152.34" y="541.32" width="1.1" height="24.18"/>
<rect x="154.62" y="540.75" width="1.1" height="24.75"/>
<rect x="156.9" y="542.14" width="1.1" height="23.36"/>
<rect x="159.19" y="539.26" width="1.1" height="26.24"/>
<rect x="161.47" y="540.75" width="1.1" height="24.75"/>
<rect x="163.75" y="540.07" width="1.1" height="25.43"/>
<rect x="166.03" y="542.08" width="1.1" height="23.42"/>
<rect x="168.31" y="545.71" width="1.1" height="19.79"/>
<rect x="170.59" y="543.17" width="1.1" height="22.33"/>
<rect x="172.87" y="548.11" width="1.1" height="17.39"/>
<rect x="175.15" y="546.74" width="1.1" height="18.76"/>
<rect x="177.43" y="545.15" width="1.1" height="20.35"/>
<rect x="179.71" y="548.69" width="1.1" height="16.81"/>
<rect x="182" y="547.12" width="1.1" height="18.38"/>
<rect x="184.28" y="549.82" width="1.1" height="15.68"/>
<rect x="186.56" y="546.65" width="1.1" height="18.85"/>
<rect x="188.84" y="546.38" width="1.1" height="19.12"/>
<rect x="191.12" y="548.1" width="1.1" height="17.4"/>
<rect x="193.4" y="548.41" width="1.1" height="17.09"/>
<rect x="195.68" y="550.24" width="1.1" height="15.26"/>
<rect x="197.96" y="550.14" width="1.1" height="15.36"/>
<rect x="200.24" y="548.99" width="1.1" height="16.51"/>
<rect x="202.52" y="547.66" width="1.1" height="17.84"/>
<rect x="204.81" y="546.55" width="1.1" height="18.95"/>
<rect x="207.09" y="544.41" width="1.1" height="21.09"/>
<rect x="209.37" y="544.65" width="1.1" height="20.85"/>
<rect x="211.65" y="546.06" width="1.1" height="19.44"/>
<rect x="213.93" y="546.13" width="1.1" height="19.37"/>
<rect x="216.21" y="549.85" width="1.1" height="15.65"/>
<rect x="218.49" y="551.04" width="1.1" height="14.46"/>
<rect x="220.77" y="553.64" width="1.1" height="11.86"/>
<rect x="223.05" y="553.39" width="1.1" height="12.11"/>
<rect x="225.33" y="554.19" width="1.1" height="11.31"/>
<rect x="227.62" y="555.74" width="1.1" height="9.76"/>
<rect x="229.9" y="555.99" width="1.1" height="9.51"/>
<rect x="232.18" y="555.86" width="1.1" height="9.64"/>
<rect x="234.46" y="557.63" width="1.1" height="7.87"/>
<rect x="236.74" y="556.69" width="1.1" height="8.81"/>
<rect x="239.02" y="557.24" width="1.1" height="8.26"/>
<rect x="241.3" y="557.3" width="1.1" height="8.2"/>
<rect x="243.58" y="557.37" width="1.1" height="8.13"/>
<rect x="245.86" y="555.87" width="1.1" height="9.63"/>
<rect x="248.14" y="557.12" width="1.1" height="8.38"/>
<rect x="250.43" y="556.83" width="1.1" height="8.67"/>
<rect x="252.71" y="557.29" width="1.1" height="8.21"/>
<rect x="254.99" y="557.06" width="1.1" height="8.44"/>
<rect x="257.27" y="559.42" width="1.1" height="6.08"/>
<rect x="259.55" y="559.42" width="1.1" height="6.08"/>
<rect x="261.83" y="559.96" width="1.1" height="5.54"/>
<rect x="264.11" y="559.73" width="1.1" height="5.77"/>
<rect x="266.39" y="560.32" width="1.1" height="5.18"/>
<rect x="268.67" y="560.68" width="1.1" height="4.82"/>
<rect x="270.95" y="562.33" width="1.1" height="3.17"/>
<rect x="273.24" y="562.5" width="1.1" height="3"/>
<rect x="275.52" y="563.07" width="1.1" height="2.43"/>
<rect x="277.8" y="562.13" width="1.1" height="3.37"/>
<rect x="280.08" y="562.12" width="1.1" height="3.38"/>
<rect x="282.36" y="563.9" width="1.1" height="1.6"/>
<rect x="284.64" y="563.98" width="1.1" height="1.52"/>
<rect x="286.92" y="564.01" width="1.1" height="1.49"/>
<rect x="289.2" y="563.91" width="1.1" height="1.59"/>
<rect x="291.48" y="563.3" width="1.1" height="2.2"/>
<rect x="293.76" y="562.99" width="1.1" height="2.51"/>
<rect x="296.05" y="563.56" width="1.1" height="1.94"/>
<rect x="298.33" y="563.99" width="1.1" height="1.51"/>
<rect x="300.61" y="563.04" width="1.1" height="2.46"/>
<rect x="302.89" y="563.05" width="1.1" height="2.45"/>
<rect x="305.17" y="562.37" width="1.1" height="3.13"/>
<rect x="307.45" y="561.31" width="1.1" height="4.19"/>
<rect x="309.73" y="561.58" width="1.1" height="3.92"/>
<rect x="312.01" y="561.66" width="1.1" height="3.84"/>
<rect x="314.29" y="561.18" width="1.1" height="4.32"/>
<rect x="316.57" y="560.61" width="1.1" height="4.89"/>
<rect x="318.86" y="561.42" width="1.1" height="4.08"/>
<rect x="321.14" y="559.24" width="1.1" height="6.26"/>
<rect x="323.42" y="559.04" width="1.1" height="6.46"/>
<rect x="325.7" y="558.39" width="1.1" height="7.11"/>
<rect x="327.98" y="558.09" width="1.1" height="7.41"/>
<rect x="330.26" y="558.24" width="1.1" height="7.26"/>
<rect x="332.54" y="557.55" width="1.1" height="7.95"/>
<rect x="334.82" y="557.47" width="1.1" height="8.03"/>
<rect x="337.1" y="555.71" width="1.1" height="9.79"/>
<rect x="339.38" y="556.19" width="1.1" height="9.31"/>
<rect x="341.67" y="555.32" width="1.1" height="10.18"/>
<rect x="343.95" y="554.17" width="1.1" height="11.33"/>
<rect x="346.23" y="553.4" width="1.1" height="12.1"/>
<rect x="348.51" y="552.18" width="1.1" height="13.32"/>
<rect x="350.79" y="551.91" width="1.1" height="13.59"/>
<rect x="353.07" y="551.15" width="1.1" height="14.35"/>
<rect x="355.35" y="549.84" width="1.1" height="15.66"/>
<rect x="357.63" y="548.93" width="1.1" height="16.57"/>
<rect x="359.91" y="547.39" width="1.1" height="18.11"/>
<rect x="362.19" y="547.07" width="1.1" height="18.43"/>
<rect x="364.48" y="542.55" width="1.1" height="22.95"/>
<rect x="366.76" y="543.53" width="1.1" height="21.97"/>
<rect x="369.04" y="545.9" width="1.1" height="19.6"/>
<rect x="371.32" y="544.4" width="1.1" height="21.1"/>
<rect x="373.6" y="542.96" width="1.1" height="22.54"/>
<rect x="375.88" y="542.06" width="1.1" height="23.44"/>
<rect x="378.16" y="542.9" width="1.1" height="22.6"/>
<rect x="380.44" y="537.42" width="1.1" height="28.08"/>
<rect x="382.72" y="535.9" width="1.1" height="29.6"/>
<rect x="385" y="528.1" width="1.1" height="37.4"/>
<rect x="387.29" y="538.27" width="1.1" height="27.23"/>
<rect x="389.57" y="540.44" width="1.1" height="25.06"/>
<rect x="391.85" y="540.33" width="1.1" height="25.17"/>
<rect x="394.13" y="538.69" width="1.1" height="26.81"/>
<rect x="396.41" y="539.22" width="1.1" height="26.28"/>
<rect x="398.69" y="534.49" width="1.1" height="31.01"/>
<rect x="400.97" y="540.79" width="1.1" height="24.71"/>
<rect x="403.25" y="532.86" width="1.1" height="32.64"/>
<rect x="405.53" y="520.62" width="1.1" height="44.88"/>
<rect x="407.81" y="525.38" width="1.1" height="40.12"/>
<rect x="410.1" y="532.86" width="1.1" height="32.64"/>
<rect x="412.38" y="538.3" width="1.1" height="27.2"/>
<rect x="414.66" y="525.38" width="1.1" height="40.12"/>
<rect x="416.94" y="530.14" width="1.1" height="35.36"/>
<rect x="419.22" y="535.58" width="1.1" height="29.92"/>
<rect x="421.5" y="533.61" width="1.1" height="31.89"/>
<rect x="423.78" y="535.14" width="1.1" height="30.36"/>
<rect x="426.06" y="539.23" width="1.1" height="26.27"/>
<rect x="428.34" y="538.17" width="1.1" height="27.33"/>
<rect x="430.62" y="538.98" width="1.1" height="26.52"/>
<rect x="432.91" y="540.34" width="1.1" height="25.16"/>
<rect x="435.19" y="530.14" width="1.1" height="35.36"/>
<rect x="437.47" y="522.32" width="1.1" height="43.18"/>
<rect x="439.75" y="530.14" width="1.1" height="35.36"/>
<rect x="442.03" y="531.5" width="1.1" height="34"/>
<rect x="444.31" y="535.24" width="1.1" height="30.26"/>
<rect x="446.59" y="537.62" width="1.1" height="27.88"/>
<rect x="448.87" y="528.78" width="1.1" height="36.72"/>
<rect x="451.15" y="532.86" width="1.1" height="32.64"/>
<rect x="453.43" y="521.3" width="1.1" height="44.2"/>
<rect x="455.72" y="527.76" width="1.1" height="37.74"/>
<rect x="458" y="534.22" width="1.1" height="31.28"/>
<rect x="460.28" y="535.58" width="1.1" height="29.92"/>
<rect x="462.56" y="535.24" width="1.1" height="30.26"/>
<rect x="464.84" y="530.14" width="1.1" height="35.36"/>
<rect x="467.12" y="540.34" width="1.1" height="25.16"/>
<rect x="469.4" y="521.3" width="1.1" height="44.2"/>
<rect x="471.68" y="524.7" width="1.1" height="40.8"/>
<rect x="473.96" y="516.54" width="1.1" height="48.96"/>
<rect x="476.24" y="527.42" width="1.1" height="38.08"/>
<rect x="478.53" y="540.34" width="1.1" height="25.16"/>
<rect x="480.81" y="530.14" width="1.1" height="35.36"/>
<rect x="483.09" y="520.62" width="1.1" height="44.88"/>
<rect x="485.37" y="528.1" width="1.1" height="37.4"/>
<rect x="487.65" y="537.62" width="1.1" height="27.88"/>
<rect x="489.93" y="530.14" width="1.1" height="35.36"/>
<rect x="492.21" y="526.74" width="1.1" height="38.76"/>
<rect x="494.49" y="531.5" width="1.1" height="34"/>
<rect x="496.77" y="520.62" width="1.1" height="44.88"/>
<rect x="499.05" y="535.24" width="1.1" height="30.26"/>
<rect x="501.34" y="526.06" width="1.1" height="39.44"/>
<rect x="503.62" y="531.5" width="1.1" height="34"/>
<rect x="505.9" y="529.46" width="1.1" height="36.04"/>
<rect x="508.18" y="535.24" width="1.1" height="30.26"/>
<rect x="510.46" y="531.5" width="1.1" height="34"/>
</g>
<path d="M55.5,535 L57,542.5 L59.25,528.75 L61.5,540 L63.75,533.75 L66,545 L68.25,535 L70.5,527.5 L72.75,531.25 L75,532.5 L77.5,542.5 L79.75,542 L82,528.75 L84.25,537.5 L86.5,539.5 L88.75,535 L91,533.75 L93.25,532.5 L95.5,545 L97.75,535 L100,533.75 L102.5,530 L104.75,542.5 L107,547.5 L109.25,543.75 L111.5,540 L113.75,535 L116,541.25 L118.25,537.5 L120.75,528.75 L123,533.75 L125.25,545 L127.5,551.25 L129.75,547.5 L132,538.75 L134.25,545 L136.5,533.75 L138.75,540 L141.25,550 L143.5,540 L145.75,532.5 L148,537.5 L150.25,525 L152.5,522 L155,532.5 L157.25,545 L159.5,527.5 L161.75,537.5 L164,535 L166.25,537.5 L170,527.5 L172.5,531.25 L175,542.5 L177,546.25 L179.25,540 L181.5,542.5 L183.75,540 L186.25,541.75 L188.75,531.25 L191.25,547.5 L193.25,537.5 L195.5,528.75 L197.75,540 L200,525 L202.5,552.5 L204.75,540 L207,531.25 L209.25,540 L211.5,542.5 L214,545 L216.25,532.5 L218.5,522.5 L220.75,523 L223,541.25 L225.25,542.5 L227.5,543.75 L230,543.75 L232.5,548.75 L235,543.75 L237.5,536.25 L241.25,536.25 L243.25,545 L245.5,541.25 L247.75,542.5 L250.25,530 L252.5,537.5 L255,537.5 L257.5,542.5 L260,548.75 L262.25,545 L264.5,547.5 L266.75,551.25 L269,547.5 L271.25,540 L273.5,546.25 L275.75,543.75 L278,541.25 L280.25,545 L282.5,547.5 L284.75,535 L287,536.25 L289.25,543.75 L292.5,543.75 L295,556.25 L297.5,540 L300,547.5 L302.5,542.5 L305,537 L307.5,550 L311.25,550.5 L314.25,548.75 L316.75,535 L319,534.5 L321.25,547.5 L323.75,548.75 L326.25,543.75 L328,553.75 L330.5,540 L333,537.5 L335.5,543.75 L338,537.5 L340,532.5 L342.5,540 L345,538.75 L347.5,542.5 L350,538.75 L352.5,534.5 L355.5,548.75 L358,537.5 L360.5,546.25 L363,550 L365.5,541.25 L368,543.75 L370.5,537.5 L373,535 L375.5,545 L378,546.25 L380.5,542.5 L383,547.5 L385.5,535 L388,537.5 L390,543.75 L392.5,537.5 L395,528.75 L397,532.5 L399.25,542.5 L401.5,543.75 L403.75,544.25 L406,543 L408.25,538.75 L410.5,542.5 L412.75,546.25 L415,526.25 L417.5,538.75 L419.75,536.25 L422,537 L424.25,537.5 L426.5,542.5 L428.75,540 L431,538 L433.25,539.5 L435.5,542.5 L437.75,544.25 L440,546.25 L442.5,542.5 L444.75,534.5 L447,537 L449.25,538.75 L451.5,541.75 L453.75,527.5 L456,537.5 L458.25,540 L460.75,535 L463,541.25 L465.25,540 L467.5,542.5 L469.75,550 L472,534.5 L474.25,542 L476.5,540.5 L478.75,541.25 L481,543.75 L483.5,540.5 L485.75,544.5 L488,547.5 L490.25,533.75 L492.5,526.25 L494.75,543.75 L497,542.5 L499.25,541.25 L501.5,523.75 L503.75,533.75 L506.25,542 L508.5,540 L510.75,533.75 L512,531.25" fill="none" stroke="#161616" stroke-width="1" stroke-linejoin="round"/>
<g stroke="#3c3c3c" stroke-width="1.35" fill="none">
<path d="M56.1,293.7 V565.5 H512"/>
<path d="M512.2,565.5 V293.7" stroke-width="1.25"/>
<path d="M56.1,531.5 h-2.8M56.1,497.5 h-2.8M56.1,463.5 h-2.8M56.1,429.5 h-2.8M56.1,395.5 h-2.8M56.1,361.5 h-2.8M56.1,327.5 h-2.8M56.1,293.5 h-2.8M167.5,565.5 v2.6M400.4,565.5 v2.6" stroke-width="1"/>
</g>
<g font-size="12.7" fill="#1c1c1c" stroke="#1c1c1c" stroke-width="0.18" text-anchor="end">
<text x="49.1" y="535.55">0.05</text>
<text x="49.1" y="501.55">0.10</text>
<text x="49.1" y="467.55">0.15</text>
<text x="49.1" y="433.55">0.20</text>
<text x="49.1" y="399.55">0.25</text>
<text x="49.1" y="365.55">0.30</text>
<text x="49.1" y="331.55">0.35</text>
<text x="49.1" y="297.55">0.40</text>
</g>
<g font-size="10.2" fill="#1c1c1c" stroke="#1c1c1c" stroke-width="0.18" text-anchor="middle">
<text x="54.6" y="580.1">-5</text>
<text x="166.4" y="580.1">-2.5</text>
<text x="397.1" y="580.1">+2.5</text>
<text x="511.3" y="580.1">+5</text>
</g>
<text x="54.6" y="597" font-size="14.8" font-weight="700" fill="#151515" stroke="#151515" stroke-width="0.3">distance (kbp)</text>
<text transform="translate(15.2,483.4) rotate(-90)" font-size="14.6" font-weight="700" fill="#151515" stroke="#151515" stroke-width="0.3">target genes (%)</text>
</g>
<g id="panelC">
<text x="0.8" y="622.3" font-size="20.6" font-weight="700" fill="#0c0c0c" stroke="#0c0c0c" stroke-width="0.35">C</text>
<g fill="#ad3c37">
<rect x="93.65" y="650.4" width="2.7" height="130.2"/>
<rect x="100.06" y="724.8" width="2.7" height="55.8"/>
<rect x="106.47" y="650.4" width="2.7" height="130.2"/>
<rect x="112.88" y="650.4" width="2.7" height="130.2"/>
<rect x="119.29" y="724.8" width="2.7" height="55.8"/>
<rect x="125.7" y="724.8" width="2.7" height="55.8"/>
<rect x="132.11" y="650.4" width="2.7" height="130.2"/>
<rect x="138.52" y="706.2" width="2.7" height="74.4"/>
<rect x="144.93" y="669" width="2.7" height="111.6"/>
<rect x="151.34" y="706.2" width="2.7" height="74.4"/>
<rect x="157.75" y="724.8" width="2.7" height="55.8"/>
<rect x="164.16" y="724.8" width="2.7" height="55.8"/>
<rect x="170.57" y="743.4" width="2.7" height="37.2"/>
<rect x="176.98" y="724.8" width="2.7" height="55.8"/>
<rect x="183.39" y="743.4" width="2.7" height="37.2"/>
<rect x="189.8" y="743.4" width="2.7" height="37.2"/>
<rect x="196.21" y="724.8" width="2.7" height="55.8"/>
<rect x="202.62" y="743.4" width="2.7" height="37.2"/>
<rect x="209.03" y="687.6" width="2.7" height="93"/>
<rect x="215.44" y="743.4" width="2.7" height="37.2"/>
<rect x="221.85" y="762" width="2.7" height="18.6"/>
<rect x="228.26" y="743.4" width="2.7" height="37.2"/>
<rect x="234.67" y="762" width="2.7" height="18.6"/>
<rect x="253.9" y="743.4" width="2.7" height="37.2"/>
<rect x="260.31" y="762" width="2.7" height="18.6"/>
<rect x="266.72" y="650.4" width="2.7" height="130.2"/>
<rect x="273.13" y="743.4" width="2.7" height="37.2"/>
<rect x="279.54" y="762" width="2.7" height="18.6"/>
<rect x="285.95" y="724.8" width="2.7" height="55.8"/>
<rect x="298.77" y="724.8" width="2.7" height="55.8"/>
<rect x="305.18" y="743.4" width="2.7" height="37.2"/>
<rect x="311.59" y="724.8" width="2.7" height="55.8"/>
<rect x="318" y="706.2" width="2.7" height="74.4"/>
<rect x="324.41" y="706.2" width="2.7" height="74.4"/>
<rect x="330.82" y="706.2" width="2.7" height="74.4"/>
<rect x="337.23" y="724.8" width="2.7" height="55.8"/>
<rect x="343.64" y="724.8" width="2.7" height="55.8"/>
<rect x="350.05" y="687.6" width="2.7" height="93"/>
<rect x="356.46" y="706.2" width="2.7" height="74.4"/>
<rect x="362.87" y="687.6" width="2.7" height="93"/>
<rect x="369.28" y="650.4" width="2.7" height="130.2"/>
<rect x="375.69" y="706.2" width="2.7" height="74.4"/>
<rect x="382.1" y="650.4" width="2.7" height="130.2"/>
<rect x="388.51" y="687.6" width="2.7" height="93"/>
<rect x="394.92" y="650.4" width="2.7" height="130.2"/>
<rect x="401.33" y="706.2" width="2.7" height="74.4"/>
<rect x="407.74" y="669" width="2.7" height="111.6"/>
</g>
<g fill="#5b9bd5">
<rect x="106.47" y="762" width="2.7" height="18.6"/>
<rect x="112.88" y="762" width="2.7" height="18.6"/>
<rect x="189.8" y="762" width="2.7" height="18.6"/>
<rect x="202.62" y="762" width="2.7" height="18.6"/>
<rect x="273.13" y="762" width="2.7" height="18.6"/>
<rect x="318" y="743.4" width="2.7" height="37.2"/>
<rect x="330.82" y="762" width="2.7" height="18.6"/>
<rect x="337.23" y="762" width="2.7" height="18.6"/>
<rect x="343.64" y="762" width="2.7" height="18.6"/>
<rect x="394.92" y="743.4" width="2.7" height="37.2"/>
</g>
<g stroke="#3c3c3c" stroke-width="1.3" fill="none">
<path d="M92.1,631.8 V780.6 H412"/>
<path d="M412,780.6 V631.8" stroke-width="1.25"/>
<path d="M92.1,762 h-2.8M92.1,743.4 h-2.8M92.1,724.8 h-2.8M92.1,706.2 h-2.8M92.1,687.6 h-2.8M92.1,669 h-2.8M92.1,650.4 h-2.8M92.1,631.8 h-2.8M92.1,780.6 v5M98.5,780.6 v3.2M104.9,780.6 v5M111.29,780.6 v3.2M117.69,780.6 v5M124.09,780.6 v3.2M130.49,780.6 v5M136.89,780.6 v3.2M143.28,780.6 v5M149.68,780.6 v3.2M156.08,780.6 v5M162.48,780.6 v3.2M168.88,780.6 v5M175.27,780.6 v3.2M181.67,780.6 v5M188.07,780.6 v3.2M194.47,780.6 v5M200.87,780.6 v3.2M207.26,780.6 v5M213.66,780.6 v3.2M220.06,780.6 v5M226.46,780.6 v3.2M232.86,780.6 v5M239.25,780.6 v3.2M245.65,780.6 v5M252.05,780.6 v3.2M258.45,780.6 v5M264.85,780.6 v3.2M271.24,780.6 v5M277.64,780.6 v3.2M284.04,780.6 v5M290.44,780.6 v3.2M296.84,780.6 v5M303.23,780.6 v3.2M309.63,780.6 v5M316.03,780.6 v3.2M322.43,780.6 v5M328.83,780.6 v3.2M335.22,780.6 v5M341.62,780.6 v3.2M348.02,780.6 v5M354.42,780.6 v3.2M360.82,780.6 v5M367.21,780.6 v3.2M373.61,780.6 v5M380.01,780.6 v3.2M386.41,780.6 v5M392.81,780.6 v3.2M399.2,780.6 v5M405.6,780.6 v3.2M412,780.6 v5" stroke-width="1.15"/>
</g>
<g font-size="12.8" fill="#1c1c1c" stroke="#1c1c1c" stroke-width="0.18" text-anchor="middle">
<text x="81.9" y="765.6">1</text>
<text x="81.9" y="747">2</text>
<text x="81.9" y="728.4">3</text>
<text x="81.9" y="709.8">4</text>
<text x="81.9" y="691.2">5</text>
<text x="81.9" y="672.6">6</text>
<text x="81.9" y="654">7</text>
<text x="81.9" y="635.4">8</text>
</g>
<g font-size="10.2" fill="#1c1c1c" stroke="#1c1c1c" stroke-width="0.18" text-anchor="end">
<text transform="translate(94.5,788.9) rotate(-90)">-150</text>
<text transform="translate(107.36,788.9) rotate(-90)">-140</text>
<text transform="translate(120.22,788.9) rotate(-90)">-130</text>
<text transform="translate(133.07,788.9) rotate(-90)">-120</text>
<text transform="translate(145.93,788.9) rotate(-90)">-110</text>
<text transform="translate(158.79,788.9) rotate(-90)">-100</text>
<text transform="translate(171.65,788.9) rotate(-90)">-90</text>
<text transform="translate(184.51,788.9) rotate(-90)">-80</text>
<text transform="translate(197.36,788.9) rotate(-90)">-70</text>
<text transform="translate(210.22,788.9) rotate(-90)">-60</text>
<text transform="translate(223.08,788.9) rotate(-90)">-50</text>
<text transform="translate(235.94,788.9) rotate(-90)">-40</text>
<text transform="translate(248.8,788.9) rotate(-90)">-30</text>
<text transform="translate(261.65,788.9) rotate(-90)">-20</text>
<text transform="translate(274.51,788.9) rotate(-90)">-10</text>
<text transform="translate(300.23,788.9) rotate(-90)">+10</text>
<text transform="translate(313.09,788.9) rotate(-90)">+20</text>
<text transform="translate(325.94,788.9) rotate(-90)">+30</text>
<text transform="translate(338.8,788.9) rotate(-90)">+40</text>
<text transform="translate(351.66,788.9) rotate(-90)">+50</text>
<text transform="translate(364.52,788.9) rotate(-90)">+60</text>
<text transform="translate(377.38,788.9) rotate(-90)">+70</text>
<text transform="translate(390.23,788.9) rotate(-90)">+80</text>
<text transform="translate(403.09,788.9) rotate(-90)">+90</text>
<text transform="translate(415.95,788.9) rotate(-90)">+100</text>
</g>
<text x="84.8" y="829.2" font-size="14.6" font-weight="700" fill="#151515" stroke="#151515" stroke-width="0.3">distance (bp)</text>
<text transform="translate(65.3,754.6) rotate(-90)" font-size="14.8" font-weight="700" fill="#151515" stroke="#151515" stroke-width="0.3">n° integrations</text>
</g>
<g id="diagram">
<g fill="#5c5c5c"><circle cx="259.3" cy="838.8" r="14.3"/><circle cx="239.2" cy="841.9" r="9.5"/><circle cx="264.2" cy="847.6" r="9"/><circle cx="246.5" cy="843" r="9.6"/><path d="M231,846 H272 V860 H233 Z"/></g>
<ellipse cx="317.9" cy="842.9" rx="47.1" ry="20.3" fill="#bcbcbc" stroke="#7c7c7c" stroke-width="1"/>
<ellipse cx="249.4" cy="856.6" rx="5.8" ry="6" fill="#c6c6c6"/>
<path d="M90,864.7 H411" stroke="#4a4a4a" stroke-width="1.6"/>
<circle cx="291.3" cy="829.2" r="10.2" fill="#5c5c5c"/>
<g fill="#8e9ddf" stroke="#4a5cae" stroke-width="0.9">
<rect x="233.8" y="859.8" width="28.5" height="9.3"/>
<path d="M242.8,859.8 V869.1 M254.6,859.8 V869.1" fill="none"/>
<rect x="282.3" y="860.4" width="9.2" height="8.8"/>
<rect x="292.3" y="865.8" width="36" height="7.7"/>
<rect x="307.7" y="855.8" width="19.4" height="8.3"/>
<path d="M319.6,855.8 V864.1" fill="none"/>
</g>
<circle cx="341" cy="868.8" r="10.2" fill="#5c5c5c"/>
<g fill="#f4f4f4" stroke="#555" stroke-width="1">
<ellipse cx="236.6" cy="853.1" rx="7.7" ry="6.6"/>
<ellipse cx="270.8" cy="856.6" rx="8" ry="6.4"/>
<ellipse cx="361.5" cy="860.6" rx="16.4" ry="9.5"/>
</g>
<g stroke="#555" stroke-width="0.8" fill="none">
<path d="M232.4,878.2 L236.2,869.4 M232.4,878.2 L252.6,869.4 M258.6,878.2 L254.4,869.4 M286.9,878 V869.4 M304.2,878 V873.2 M304.6,855.8 L307.6,852.6 M327.2,855.8 L329.4,852.6"/>
</g>
</g>
<g stroke="#6a6a6a" stroke-width="1.15" fill="none">
<path d="M55.6,293.7 L262.8,261.4 V255.6 M262.8,261.4 H306.2 M306.2,255.6 V261.4 L512,293.7"/>
<path d="M92.1,631.8 L277,572.6 V566 M277,572.6 H288.6 M288.6,566 V572.6 L412,631.8"/>
</g>
<g stroke="#2a2a2a" stroke-width="1.5" fill="none" stroke-dasharray="2.2 2.2">
<path d="M284.2,35.5 V860.4"/>
<path d="M245.4,804.3 V888 M322.2,807.3 V888.4"/>
</g>
<g font-size="10.6" font-weight="700" text-anchor="middle">
<text x="253.6" y="847.6" fill="#fff" font-size="11.2">IID</text>
<text x="291.2" y="833" fill="#fff">IIF</text>
<text x="340.8" y="873" fill="#fff">IIE</text>
<text x="236.8" y="857" fill="#222">IIB</text>
<text x="270.8" y="860.4" fill="#222">IIA</text>
<text x="361.4" y="864.6" fill="#222">IIH</text>
<text x="338.4" y="837.8" fill="#222" font-size="10.9">Pol II</text>
</g>
<g font-size="8.3" fill="#333" text-anchor="middle">
<text x="295.6" y="854">MTE</text>
<text x="338.4" y="854">DPE</text>
<text x="221" y="886">BRE</text>
<text x="263.7" y="886">TATA</text>
<text x="286.8" y="886">Inr</text>
<text x="304.1" y="886">DCE</text>
<text x="244.6" y="896.4">-30</text>
<text x="320" y="896.4">+30</text>
</g>
</svg></body></html>
